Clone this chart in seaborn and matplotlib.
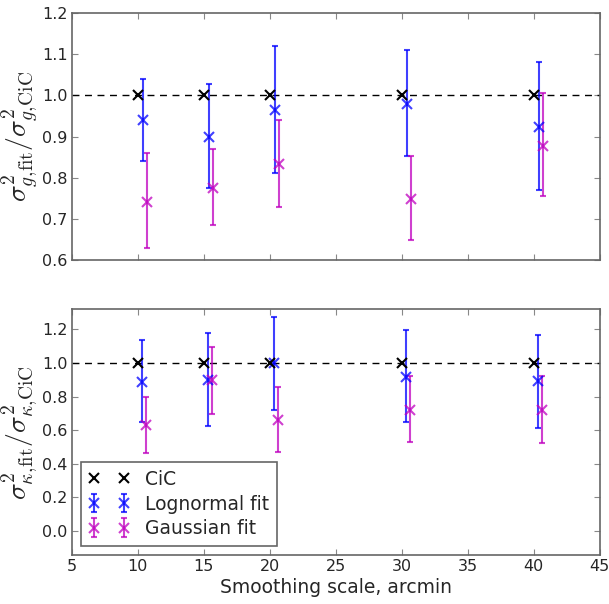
import numpy as np
import matplotlib
matplotlib.use('Agg')
import matplotlib.pyplot as plt
import seaborn as sns

# smoothing scales (arcmin)
scales = [10, 15, 20, 30, 40]

# top panel: galaxy variance ratio
g_logn = [0.939, 0.900, 0.965, 0.979, 0.923]
g_logn_lo = [0.841, 0.775, 0.811, 0.853, 0.769]
g_logn_hi = [1.039, 1.027, 1.119, 1.109, 1.081]
g_gauss = [0.742, 0.774, 0.833, 0.748, 0.878]
g_gauss_lo = [0.628, 0.685, 0.728, 0.649, 0.756]
g_gauss_hi = [0.861, 0.869, 0.940, 0.853, 1.005]

# bottom panel: convergence variance ratio
k_logn = [0.887, 0.901, 0.997, 0.917, 0.891]
k_logn_lo = [0.648, 0.622, 0.718, 0.646, 0.612]
k_logn_hi = [1.134, 1.180, 1.274, 1.196, 1.166]
k_gauss = [0.628, 0.901, 0.662, 0.722, 0.722]
k_gauss_lo = [0.462, 0.696, 0.468, 0.526, 0.522]
k_gauss_hi = [0.797, 1.096, 0.855, 0.920, 0.925]

sns.set_style('ticks')
plt.rcParams['font.family'] = ['DejaVu Sans']
plt.rcParams['mathtext.fontset'] = 'cm'
plt.rcParams['xtick.direction'] = 'in'
plt.rcParams['ytick.direction'] = 'in'
plt.rcParams['xtick.top'] = True
plt.rcParams['ytick.right'] = True

fig = plt.figure(figsize=(6.09, 6.04), dpi=100)
ax1 = fig.add_axes([0.118, 0.5695, 0.867, 0.409])
ax2 = fig.add_axes([0.118, 0.081, 0.867, 0.407])

x = np.array(scales, dtype=float)


def draw_panel(ax, logn, logn_lo, logn_hi, gauss, gauss_lo, gauss_hi, boff, moff):
    ax.axhline(1.0, color='k', ls='--', lw=1, dashes=(5, 4), zorder=1)
    ax.plot(x, np.ones_like(x), 'x', color='k', ms=7, mew=1.5, label='CiC', zorder=3)
    logn = np.array(logn)
    gauss = np.array(gauss)
    ax.errorbar(x + boff, logn, yerr=[logn - np.array(logn_lo), np.array(logn_hi) - logn],
                fmt='x', color='b', ms=7.5, mew=1.5, elinewidth=1.5, capsize=2.5,
                capthick=1.5, alpha=0.75, label='Lognormal fit', zorder=2)
    ax.errorbar(x + moff, gauss, yerr=[gauss - np.array(gauss_lo), np.array(gauss_hi) - gauss],
                fmt='x', color='m', ms=7.5, mew=1.5, elinewidth=1.5, capsize=2.5,
                capthick=1.5, alpha=0.75, label='Gaussian fit', zorder=2)
    ax.set_xlim(5, 45)
    ax.set_xticks(np.arange(5, 46, 5))
    ax.tick_params(labelsize=11.5, length=4, width=0.8, color='#888888', pad=3)
    for s in ax.spines.values():
        s.set_color('#666666')
        s.set_linewidth(1.2)


draw_panel(ax1, g_logn, g_logn_lo, g_logn_hi, g_gauss, g_gauss_lo, g_gauss_hi, 0.38, 0.67)
ax1.set_ylim(0.6, 1.2)
ax1.set_yticks(np.arange(0.6, 1.21, 0.1))
ax1.set_xticklabels([])
ax1.set_ylabel(r'$\sigma^2_{g,\!\rm fit}/\sigma^2_{g,\!\rm CiC}$', fontsize=20, labelpad=2)

draw_panel(ax2, k_logn, k_logn_lo, k_logn_hi, k_gauss, k_gauss_lo, k_gauss_hi, 0.32, 0.6)
ax2.set_ylim(-0.145, 1.32)
ax2.set_yticks(np.arange(0.0, 1.21, 0.2))
ax2.set_xlabel('Smoothing scale, arcmin', fontsize=13.5, labelpad=3)
ax2.set_ylabel(r'$\sigma^2_{\kappa,\!\rm fit}/\sigma^2_{\kappa,\!\rm CiC}$', fontsize=20, labelpad=2)
leg = ax2.legend(loc='lower left', numpoints=2, fontsize=13.5, fancybox=False,
                 framealpha=1, edgecolor='#666666', handlelength=2.2,
                 borderaxespad=0.5, borderpad=0.4, labelspacing=0.3)
leg.get_frame().set_linewidth(1.2)

fig.savefig('out.png', dpi=100)
